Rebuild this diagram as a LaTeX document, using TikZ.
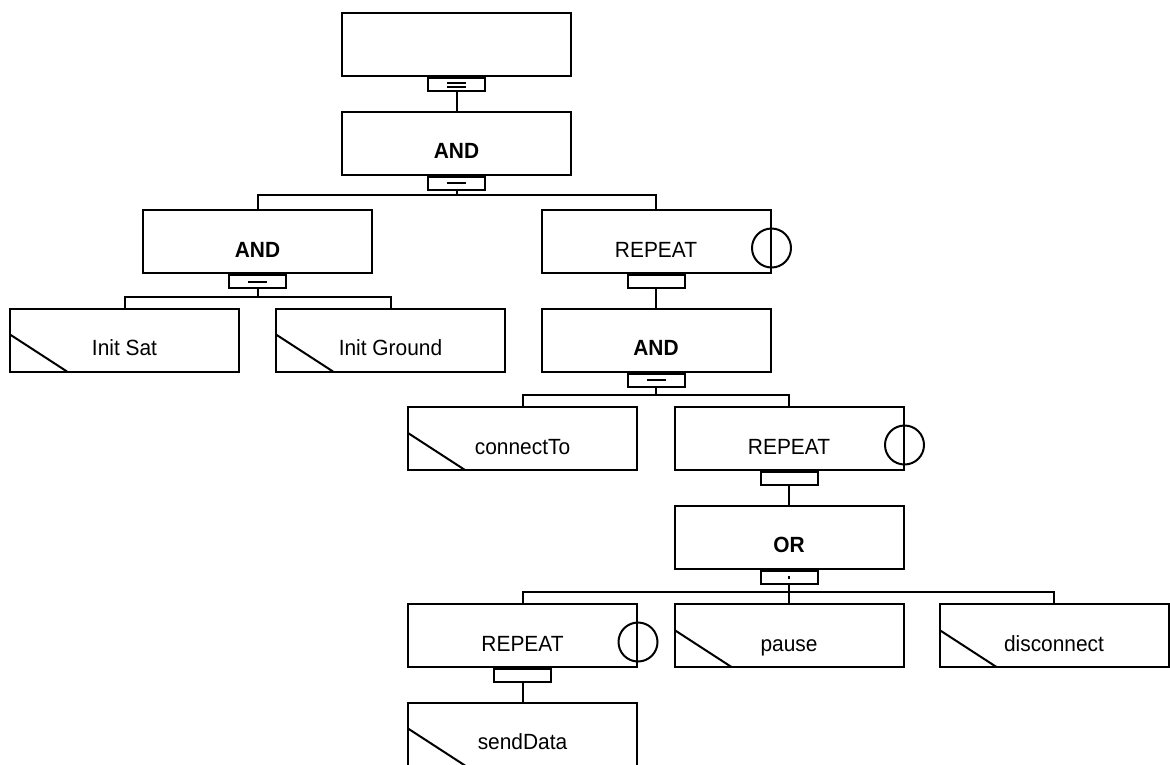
\documentclass[tikz,border=0pt]{standalone}
\usepackage{fontspec}
\setmainfont[FakeStretch=0.95]{Liberation Sans}
\begin{document}
\begin{tikzpicture}[x=1pt,y=-1pt,line width=2pt,
  every node/.style={font=\fontsize{22}{26}\selectfont},
  box/.style={draw, rectangle, anchor=north, inner sep=0pt,
    minimum width=229pt, text height=47pt, text depth=16pt},
  leaf/.style={box, path picture={
    \draw ([yshift=-26pt]path picture bounding box.north west)
       -- ([xshift=57pt]path picture bounding box.south west);}},
  tab/.style={draw, rectangle, anchor=north, inner sep=0pt,
    minimum width=57pt, minimum height=13pt},
  tabdouble/.style={tab, path picture={
    \draw ([shift={(-9.5pt,2pt)}]path picture bounding box.center) -- ++(19pt,0);
    \draw ([shift={(-9.5pt,-2pt)}]path picture bounding box.center) -- ++(19pt,0);}},
  tabsingle/.style={tab, path picture={
    \draw ([shift={(-9.5pt,0pt)}]path picture bounding box.center) -- ++(19pt,0);}},
  tabdot/.style={tab, path picture={
    \draw ([shift={(0pt,1.5pt)}]path picture bounding box.center) -- ++(0,-3pt);}},
  loopmark/.style={draw, circle, inner sep=0pt, minimum size=39pt},
  andtext/.style={font=\fontsize{22}{26}\selectfont\bfseries}
]
\useasboundingbox (0,0) rectangle (1170,764);
\clip (0,0) rectangle (1170,764);

% composite and leaf boxes (anchored at their top edge)
\node[box] (root) at (456.5,12) {};
\node[box,andtext] (and1) at (456.5,110.5) {AND};
\node[box,andtext] (and2) at (257.5,209) {AND};
\node[box] (rep1) at (656,209) {REPEAT};
\node[leaf] (initsat) at (124.5,307.5) {Init Sat};
\node[leaf] (initground) at (390.5,307.5) {Init Ground};
\node[box,andtext] (and3) at (656,307.5) {AND};
\node[leaf] (connect) at (522.5,406) {connectTo};
\node[box] (rep2) at (789,406) {REPEAT};
\node[box,andtext] (or1) at (789,504.5) {OR};
\node[box] (rep3) at (522.5,603) {REPEAT};
\node[leaf] (pause) at (789,603) {pause};
\node[leaf] (disc) at (1054,603) {disconnect};
\node[leaf] (send) at (522.5,701.5) {sendData};

% repetition marks on the right edge
\node[loopmark] (rep1c) at ([yshift=-6.5pt]rep1.east) {};
\node[loopmark] (rep2c) at ([yshift=-6.5pt]rep2.east) {};
\node[loopmark] (rep3c) at ([yshift=-6.5pt]rep3.east) {};

% operator tabs below composite boxes
\node[tabdouble] (troot) at (root.south) {};
\node[tabsingle] (tand1) at (and1.south) {};
\node[tabsingle] (tand2) at (and2.south) {};
\node[tab] (trep1) at (rep1.south) {};
\node[tabsingle] (tand3) at (and3.south) {};
\node[tab] (trep2) at (rep2.south) {};
\node[tabdot] (tor1) at (or1.south) {};
\node[tab] (trep3) at (rep3.south) {};

% single-child links
\draw (troot.south) -- (and1.north);
\draw (trep1.south) -- (and3.north);
\draw (trep2.south) -- (or1.north);
\draw (trep3.south) -- (send.north);

% branching links
\draw (and2.north) -- ++(0,-14) coordinate (b1) -| (rep1.north);
\draw (tand1.south) -- (tand1.south |- b1);

\draw (initsat.north) -- ++(0,-11) coordinate (b2) -| (initground.north);
\draw (tand2.south) -- (tand2.south |- b2);

\draw (connect.north) -- ++(0,-11) coordinate (b3) -| (rep2.north);
\draw (tand3.south) -- (tand3.south |- b3);

\draw (rep3.north) -- ++(0,-11) coordinate (b4) -| (disc.north);
\draw (pause.north) -- (pause.north |- b4);
\draw (tor1.south) -- (tor1.south |- b4);
\end{tikzpicture}
\end{document}
